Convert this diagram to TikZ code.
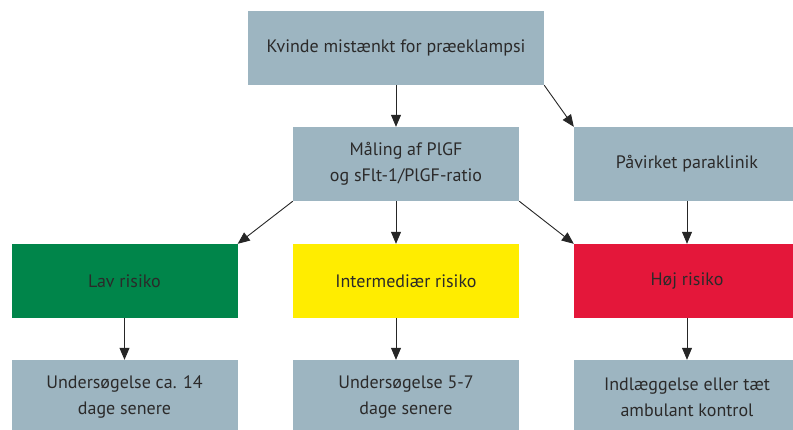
\documentclass[tikz,border=0pt]{standalone}
\usepackage{fontspec}
\setmainfont{PT Sans}
\usetikzlibrary{arrows.meta}
\definecolor{boxgray}{HTML}{9DB5C1}
\definecolor{lavgreen}{HTML}{00854A}
\definecolor{midyellow}{HTML}{FFED00}
\definecolor{hojred}{HTML}{E4173A}
\definecolor{txt}{HTML}{2B2A2A}
\begin{document}
\begin{tikzpicture}
  [x=1pt,y=-1pt,
    box/.style={fill=boxgray,minimum width=226pt,minimum height=74pt,
    inner sep=0pt,align=center,text=txt,font=\fontsize{18}{26}\selectfont},
    arr/.style={-{Triangle[length=12pt,width=10pt]},line width=0.9pt,draw=black!85}]
  \useasboundingbox (0,0) rectangle (793,430);
  \node[box,minimum width=296pt] (kvinde) at (396,48) {Kvinde mistænkt for præeklampsi};
  \node[box] (maaling) at (406,164) {Måling af PlGF\\og sFlt-1/PlGF-ratio};
  \node[box] (paavirket) at (687,164) {Påvirket paraklinik};
  \node[box,fill=lavgreen] (lav) at (124.5,281) {Lav risiko};
  \node[box,fill=midyellow] (inter) at (406,281) {Intermediær risiko};
  \node[box,fill=hojred] (hoj) at (687,281) {Høj risiko};
  \node[box] (lavud) at (124.5,397) {Undersøgelse ca. 14\\dage senere};
  \node[box] (interud) at (406,397) {Undersøgelse 5-7\\dage senere};
  \node[box] (hojud) at (687,397) {Indlæggelse eller tæt\\ambulant kontrol};
  % pile
  \draw[arr] (kvinde.south) -- (kvinde.south |- maaling.north);
  \draw[arr] (kvinde.south east) -- (paavirket.north west);
  \draw[arr] (maaling.south west) -- (lav.north east);
  \draw[arr] (kvinde.south |- maaling.south) -- (kvinde.south |- inter.north);
  \draw[arr] (maaling.south east) -- (hoj.north west);
  \draw[arr] (paavirket.south) -- (hoj.north);
  \draw[arr] (lav.south) -- (lavud.north);
  \draw[arr] (kvinde.south |- inter.south) -- (kvinde.south |- interud.north);
  \draw[arr] (hoj.south) -- (hojud.north);
\end{tikzpicture}
\end{document}
